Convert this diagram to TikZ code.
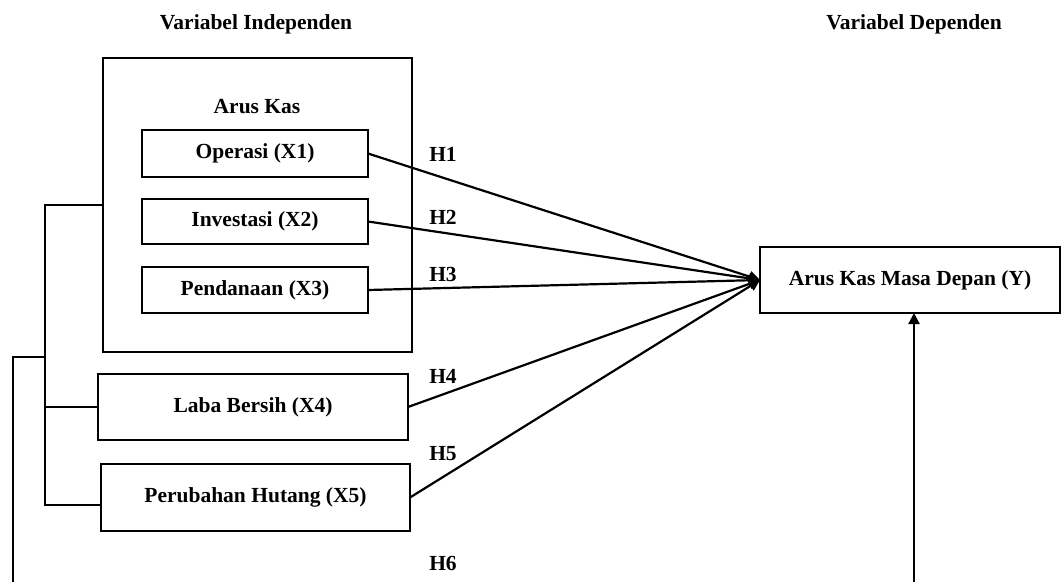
\documentclass[tikz,border=0pt]{standalone}
\usepackage{fontspec}
\setmainfont{Liberation Serif}
\usetikzlibrary{arrows.meta,positioning}

\tikzset{
    varbox/.style={draw, line width=2.2pt, inner sep=0pt, outer sep=0pt, align=center},
    lbl/.style={font=\fontsize{21.5}{25}\selectfont\bfseries},
    link/.style={line width=2.2pt},
    arr/.style={line width=2.2pt, -{Triangle[length=11pt,width=11pt]}}
}

\begin{document}
\begin{tikzpicture}[x=1pt, y=-1pt]
    \useasboundingbox (0,0) rectangle (1062,581);

    % Titles
    \node[lbl] (tind) at (256,24) {Variabel Independen};
    \node[lbl] (tdep) at (914,24) {Variabel Dependen};

    % Arus kas group
    \node[varbox, minimum width=309pt, minimum height=294pt] (kas) at (257.5,205) {};
    \node[lbl] (kastitle) at (257,107) {Arus Kas};
    \node[varbox, lbl, minimum width=226pt, minimum height=47pt] (ops) at (255,153.5) {Operasi (X1)};
    \node[varbox, lbl, minimum width=226pt, minimum height=45pt] (inv) at (255,221.5) {Investasi (X2)};
    \node[varbox, lbl, minimum width=226pt, minimum height=46pt] (pend) at (255,290) {Pendanaan (X3)};

    % Other independent variables
    \node[varbox, lbl, minimum width=310pt, minimum height=66pt] (laba) at (253,407) {Laba Bersih (X4)};
    \node[varbox, lbl, minimum width=309pt, minimum height=67pt] (hutang) at (255.5,497.5) {Perubahan Hutang (X5)};

    % Dependent variable
    \node[varbox, lbl, minimum width=300pt, minimum height=66pt] (y) at (910,280) {Arus Kas Masa Depan (Y)};

    % Hypotheses
    \draw[arr] (ops.east) -- (y.west);
    \draw[arr] (inv.east) -- (y.west);
    \draw[arr] (pend.east) -- (y.west);
    \draw[arr] (laba.east) -- (y.west);
    \draw[arr] (hutang.east) -- (y.west);
    \node[lbl] (h1) at (443,154) {H1};
    \node[lbl] (h2) at (443,217) {H2};
    \node[lbl] (h3) at (443,274) {H3};
    \node[lbl] (h4) at (443,376) {H4};
    \node[lbl] (h5) at (443,454) {H5};
    \node[lbl] (h6) at (443,563) {H6};

    % Simultaneous path (H6)
    \coordinate (jtop) at (45,205);
    \coordinate (jmid) at (45,357);
    \coordinate (jbot) at (45,505);
    \coordinate (lft) at (13,357);
    \coordinate (lftend) at (13,585);
    \coordinate (yend) at (914,585);
    \draw[link] (kas.west) -- (kas.west -| jtop) -- (jbot) -- (jbot -| hutang.west);
    \draw[link] (laba.west) -- (laba.west -| jtop);
    \draw[link] (jmid) -- (lft) -- (lftend);
    \draw[arr] (yend) -- (yend |- y.south);
\end{tikzpicture}
\end{document}
